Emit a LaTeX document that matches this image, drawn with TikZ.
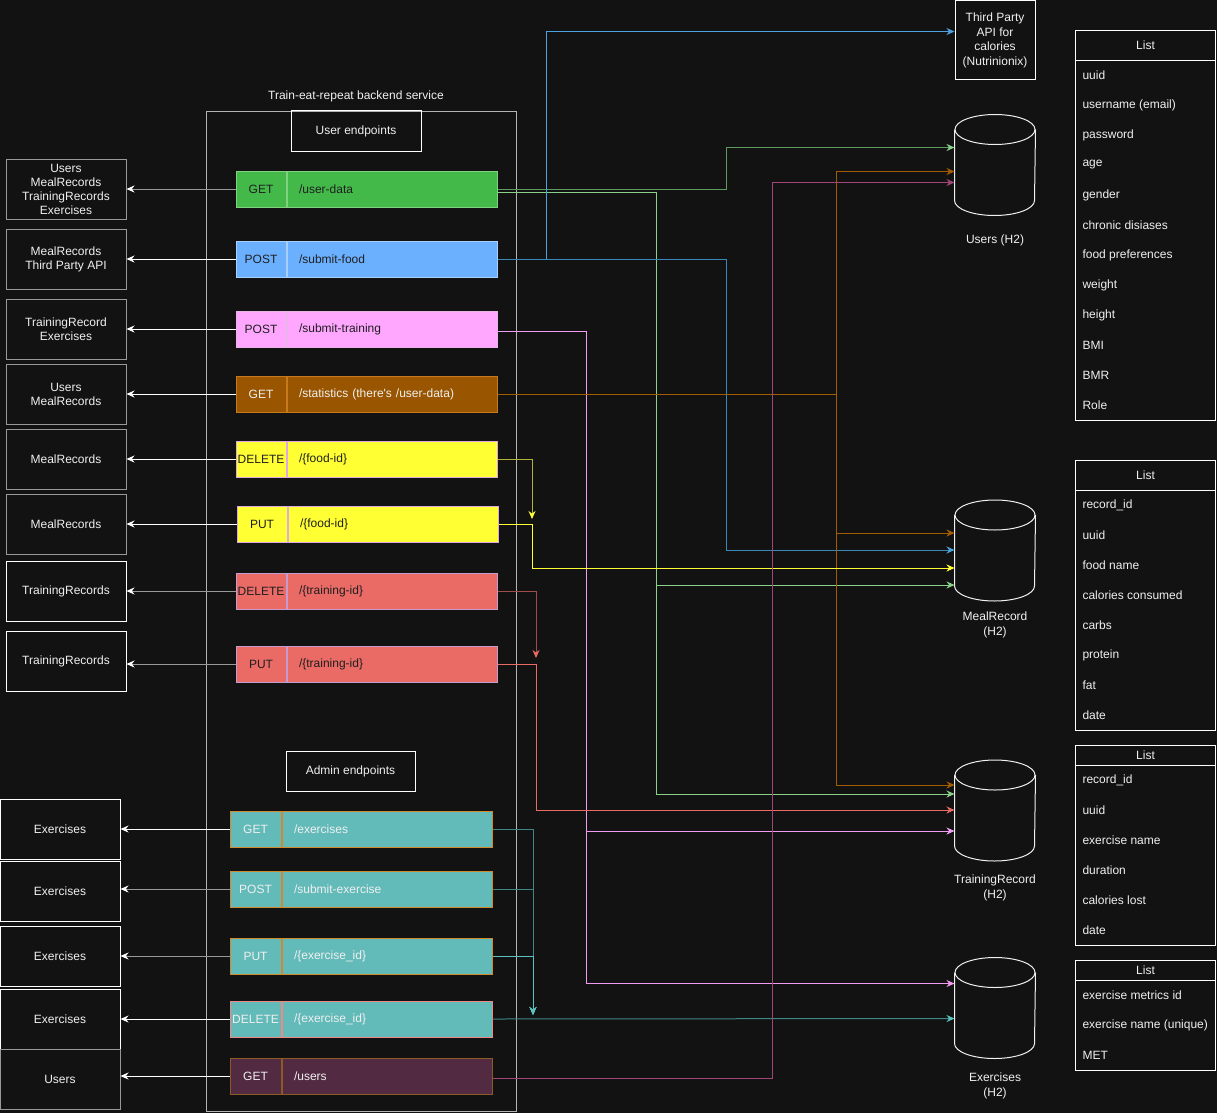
\documentclass[tikz,border=0pt]{standalone}
\usepackage{fontspec}
\setmainfont{Liberation Sans}
\usetikzlibrary{arrows.meta,calc}

\definecolor{bgDark}{HTML}{121212}
\definecolor{txtLight}{HTML}{F0F0F0}
\definecolor{epDark}{HTML}{1F1F1F}
\definecolor{boxGray}{HTML}{999999}
\definecolor{svcGray}{HTML}{B3B3B3}
% endpoint fills and borders
\definecolor{epGreen}{HTML}{43B94A}
\definecolor{epGreenLine}{HTML}{82D17F}
\definecolor{epBlue}{HTML}{6BB0FF}
\definecolor{epBlueLine}{HTML}{A9CFFF}
\definecolor{epPink}{HTML}{FFA6FF}
\definecolor{epPinkLine}{HTML}{E8B5E8}
\definecolor{epBrown}{HTML}{995500}
\definecolor{epBrownLine}{HTML}{C77A1A}
\definecolor{epYellow}{HTML}{FFFF33}
\definecolor{epYellowLine}{HTML}{E0A8E0}
\definecolor{epRed}{HTML}{EA6B66}
\definecolor{epRedLine}{HTML}{C79AD0}
\definecolor{epTeal}{HTML}{62BAB9}
\definecolor{epTealLine}{HTML}{D08A2E}
\definecolor{epPlum}{HTML}{522A42}
\definecolor{epPlumLine}{HTML}{8C5A24}
% connector colours
\definecolor{lnGreenDark}{HTML}{5E9A5E}
\definecolor{lnGreen}{HTML}{8AD18A}
\definecolor{lnBlue}{HTML}{4AA3DF}
\definecolor{lnBlueDark}{HTML}{3A88BA}
\definecolor{lnPink}{HTML}{F09CF0}
\definecolor{lnBrown}{HTML}{A35C00}
\definecolor{lnPlum}{HTML}{A3457A}
\definecolor{lnOlive}{HTML}{B3B33A}
\definecolor{lnYellow}{HTML}{FFFF33}
\definecolor{lnRedDark}{HTML}{A04C4A}
\definecolor{lnRed}{HTML}{EA6B66}
\definecolor{lnTealDark}{HTML}{3F8786}
\definecolor{lnTeal}{HTML}{5CC2C0}

\newcommand{\diagfont}{\fontsize{12}{14}\selectfont}
\newcommand{\dbcylinder}[1]{%
  \draw[txtLight] ($(#1.north west)+(0,15)$) -- ($(#1.south west)+(0,-15)$)
    arc[start angle=180, end angle=0, x radius=40, y radius=15]
    -- ($(#1.north east)+(0,15)$);
  \draw[txtLight] ($(#1.north)+(0,15)$) ellipse[x radius=40, y radius=15];}

\begin{document}
\begin{tikzpicture}[x=1pt, y=-1pt, >={Stealth[length=8pt, width=7pt]},
    line width=1pt, font=\diagfont, text=txtLight,
    box/.style={draw=boxGray, minimum width=120pt, minimum height=60pt, inner sep=0pt, align=center},
    hdrbox/.style={draw=white, minimum width=130pt, minimum height=40pt, inner sep=0pt},
    cellm/.style={draw, minimum width=50pt, minimum height=36pt, inner sep=0pt},
    cellp/.style={draw, anchor=west, minimum height=36pt, inner sep=0pt, inner xsep=12pt, text width=186pt, align=left},
    epgreen/.style={fill=epGreen, draw=epGreenLine, text=epDark},
    epblue/.style={fill=epBlue, draw=epBlueLine, text=epDark},
    eppink/.style={fill=epPink, draw=epPinkLine, text=epDark},
    epbrown/.style={fill=epBrown, draw=epBrownLine, text=txtLight},
    epyellow/.style={fill=epYellow, draw=epYellowLine, text=epDark},
    epred/.style={fill=epRed, draw=epRedLine, text=epDark},
    epteal/.style={fill=epTeal, draw=epTealLine, text=txtLight},
    epplum/.style={fill=epPlum, draw=epPlumLine, text=txtLight},
    retw/.style={white, ->},
    retg/.style={boxGray, -{Stealth[length=8pt, width=7pt, color=white]}},
    tipc/.style={-{Stealth[length=8pt, width=7pt, color=#1]}},
    dbbox/.style={minimum width=80pt, minimum height=100pt, inner sep=0pt},
    lsthead/.style={draw=white, anchor=north west, minimum width=140pt, inner sep=0pt},
    lstbody/.style={draw=white, anchor=north west, minimum width=140pt, inner sep=0pt},
    item/.style={anchor=west, inner sep=0pt}]

    \useasboundingbox (0,0) rectangle (1217,1113);
    \fill[bgDark] (0,0) rectangle (1217,1113);

    % backend service
    \node (svcTitle) at (356,96) {Train-eat-repeat backend service};
    \node[draw=svcGray, anchor=north west, minimum width=310pt, minimum height=1000pt, inner sep=0pt] (svc) at (206,111) {};
    \node[hdrbox] (userHdr) at (356,131) {User endpoints};
    \node[hdrbox, minimum width=129pt] (adminHdr) at (350.5,771) {Admin endpoints};

    % user endpoints
    \node[cellm, epgreen] (mUserData) at (261,189) {GET};
    \node[cellp, epgreen] (pUserData) at (mUserData.east) {/user-data};
    \node[cellm, epblue] (mSubmitFood) at (261,259) {POST};
    \node[cellp, epblue] (pSubmitFood) at (mSubmitFood.east) {/submit-food};
    \node[cellm, eppink] (mSubmitTraining) at (261,329) {POST};
    \node[cellp, eppink] (pSubmitTraining) at (mSubmitTraining.east) {/submit-training};
    \node[cellm, epbrown] (mStatistics) at (261,394) {GET};
    \node[cellp, epbrown] (pStatistics) at (mStatistics.east) {/statistics (there\textquotesingle s /user-data)};
    \node[cellm, epyellow] (mDelFood) at (261,459) {DELETE};
    \node[cellp, epyellow] (pDelFood) at (mDelFood.east) {/\{food-id\}};
    \node[cellm, epyellow] (mPutFood) at (262,524) {PUT};
    \node[cellp, epyellow] (pPutFood) at (mPutFood.east) {/\{food-id\}};
    \node[cellm, epred] (mDelTraining) at (261,591) {DELETE};
    \node[cellp, epred] (pDelTraining) at (mDelTraining.east) {/\{training-id\}};
    \node[cellm, epred] (mPutTraining) at (261,664) {PUT};
    \node[cellp, epred] (pPutTraining) at (mPutTraining.east) {/\{training-id\}};

    % admin endpoints
    \node[cellm, epteal, minimum width=51pt] (mGetEx) at (255.5,829) {GET};
    \node[cellp, epteal] (pGetEx) at (mGetEx.east) {/exercises};
    \node[cellm, epteal, minimum width=51pt] (mPostEx) at (255.5,889) {POST};
    \node[cellp, epteal] (pPostEx) at (mPostEx.east) {/submit-exercise};
    \node[cellm, epteal, minimum width=51pt] (mPutEx) at (255.5,956) {PUT};
    \node[cellp, epteal] (pPutEx) at (mPutEx.east) {/\{exercise\_id\}};
    \node[cellm, epteal, draw=lnRed!80, minimum width=51pt] (mDelEx) at (255.5,1019) {DELETE};
    \node[cellp, epteal, draw=lnRed!80] (pDelEx) at (mDelEx.east) {/\{exercise\_id\}};
    \node[cellm, epplum, minimum width=51pt] (mUsers) at (255.5,1076) {GET};
    \node[cellp, epplum] (pUsers) at (mUsers.east) {/users};

    % returned data
    \node[box] (bUserData) at (66,189) {Users\\MealRecords\\TrainingRecords\\Exercises};
    \node[box] (bSubmitFood) at (66,259) {MealRecords\\Third Party API};
    \node[box] (bSubmitTraining) at (66,329) {TrainingRecord\\Exercises};
    \node[box] (bStatistics) at (66,394) {Users\\MealRecords};
    \node[box] (bDelFood) at (66,459) {MealRecords};
    \node[box] (bPutFood) at (66,524) {MealRecords};
    \node[box, draw=white] (bDelTraining) at (66,591) {TrainingRecords};
    \node[box, draw=white] (bPutTraining) at (66,661) {TrainingRecords};
    \node[box, draw=white] (bGetEx) at (60,829) {Exercises};
    \node[box, draw=white] (bPostEx) at (60,891) {Exercises};
    \node[box, draw=white] (bPutEx) at (60,956) {Exercises};
    \node[box, draw=white] (bDelEx) at (60,1019) {Exercises};
    \node[box, draw=boxGray] (bUsers) at (60,1079) {Users};

    \draw[retg] (mUserData.west) -- (mUserData.west -| bUserData.east);
    \draw[retw] (mSubmitFood.west) -- (mSubmitFood.west -| bSubmitFood.east);
    \draw[retw] (mSubmitTraining.west) -- (mSubmitTraining.west -| bSubmitTraining.east);
    \draw[retw] (mStatistics.west) -- (mStatistics.west -| bStatistics.east);
    \draw[retw] (mDelFood.west) -- (mDelFood.west -| bDelFood.east);
    \draw[retw] (mPutFood.west) -- (mPutFood.west -| bPutFood.east);
    \draw[retg] (mDelTraining.west) -- (mDelTraining.west -| bDelTraining.east);
    \draw[retg] (mPutTraining.west) -- (mPutTraining.west -| bPutTraining.east);
    \draw[retw] (mGetEx.west) -- (mGetEx.west -| bGetEx.east);
    \draw[retg] (mPostEx.west) -- (mPostEx.west -| bPostEx.east);
    \draw[retg] (mPutEx.west) -- (mPutEx.west -| bPutEx.east);
    \draw[retw] (mDelEx.west) -- (mDelEx.west -| bDelEx.east);
    \draw[retw] (mUsers.west) -- (mUsers.west -| bUsers.east);

    % storage
    \node[draw=white, minimum width=80pt, minimum height=79pt, inner sep=0pt, align=center,
          font=\fontsize{12}{14.5}\selectfont] (api) at (995,40.5) {Third Party\\API for\\calories\\(Nutrinionix)};
    \node[dbbox] (cUsers) at (995,165) {};
    \node[dbbox] (cMeal) at (995,550.5) {};
    \node[dbbox] (cTrain) at (995,810.5) {};
    \node[dbbox] (cEx) at (995,1008) {};
    \dbcylinder{cUsers}
    \dbcylinder{cMeal}
    \dbcylinder{cTrain}
    \dbcylinder{cEx}
    \node (cUsersLbl) at (995,240) {Users (H2)};
    \node[align=center, font=\fontsize{12}{15}\selectfont] (cMealLbl) at (995,624.5) {MealRecord\\(H2)};
    \node[align=center, font=\fontsize{12}{15}\selectfont] (cTrainLbl) at (995,887.5) {TrainingRecord\\(H2)};
    \node[align=center, font=\fontsize{12}{15}\selectfont] (cExLbl) at (995,1085.5) {Exercises\\(H2)};

    % lanes of the connectors
    \coordinate (laneApi) at (546,0);
    \coordinate (laneMid) at (726,0);
    \coordinate (laneGreen) at (656,0);
    \coordinate (lanePink) at (586,0);
    \coordinate (laneStats) at (836,0);
    \coordinate (lanePlum) at (772,0);
    \coordinate (laneFood) at (532,0);
    \coordinate (laneTrId) at (536,0);
    \coordinate (laneEx) at (533,0);
    \coordinate (foodJoin) at ($(pPutFood.east -| laneFood)+(0,-5)$);
    \coordinate (trainJoin) at ($(pPutTraining.east -| laneTrId)+(0,-6)$);
    \coordinate (exJoin) at ($(pDelEx.east -| laneEx)+(0,-4)$);

    \draw[lnGreenDark, tipc=lnGreen] (pUserData.east) -- (pUserData.east -| laneMid) |- ($(cUsers.north west)+(0,33)$);
    \draw[lnGreen, ->] ($(pUserData.east)+(0,3)$) -| ($(laneGreen |- cMeal.north west)+(0,85)$) -- ($(cMeal.north west)+(0,85)$);
    \draw[lnGreen, ->] ($(pUserData.east)+(0,3)$) -| ($(laneGreen |- cTrain.north west)+(0,34)$) -- ($(cTrain.north west)+(0,34)$);

    \draw[lnBlue, ->] (pSubmitFood.east) -- (pSubmitFood.east -| laneApi) |- ($(api.north west)+(0,31)$);
    \draw[lnBlueDark, tipc=lnBlue] (pSubmitFood.east) -- (pSubmitFood.east -| laneMid) |- ($(cMeal.north west)+(0,50)$);

    \draw[lnPink, ->] ($(pSubmitTraining.east)+(0,2)$) -| ($(lanePink |- cTrain.north west)+(0,71)$) -- ($(cTrain.north west)+(0,71)$);
    \draw[lnPink, ->] ($(pSubmitTraining.east)+(0,2)$) -| ($(lanePink |- cEx.north west)+(0,26)$) -- ($(cEx.north west)+(0,26)$);

    \draw[lnBrown, ->] (pStatistics.east) -- (pStatistics.east -| laneStats) |- ($(cUsers.north west)+(0,57)$);
    \draw[lnBrown, ->] (pStatistics.east) -- (pStatistics.east -| laneStats) |- ($(cMeal.north west)+(0,33)$);
    \draw[lnBrown, ->] (pStatistics.east) -- (pStatistics.east -| laneStats) |- ($(cTrain.north west)+(0,25)$);

    \draw[lnOlive, tipc=lnYellow] (pDelFood.east) -- (pDelFood.east -| laneFood) -- (foodJoin);
    \draw[lnYellow, ->] (pPutFood.east) -- (pPutFood.east -| laneFood) |- ($(cMeal.north west)+(0,68)$);

    \draw[lnRedDark, tipc=lnRed] (pDelTraining.east) -- (pDelTraining.east -| laneTrId) -- (trainJoin);
    \draw[lnRed, ->] (pPutTraining.east) -- (pPutTraining.east -| laneTrId) |- ($(cTrain.north west)+(0,50)$);

    \draw[lnTealDark, tipc=lnTeal] (pGetEx.east) -- (pGetEx.east -| laneEx) -- (exJoin);
    \draw[lnTealDark, tipc=lnTeal] (pPostEx.east) -- (pPostEx.east -| laneEx) -- (exJoin);
    \draw[lnTeal, ->] (pPutEx.east) -- (pPutEx.east -| laneEx) -- (exJoin);
    \draw[lnTealDark, tipc=lnTeal] (pDelEx.east) -- ($(cEx.north west)+(0,61)$);

    \draw[lnPlum, ->] ($(pUsers.east)+(0,2)$) -| ($(lanePlum |- cUsers.north west)+(0,68)$) -- ($(cUsers.north west)+(0,68)$);

    % tables
    \node[lstbody, minimum height=390pt] (tblUsers) at (1075,30) {};
    \node[lsthead, minimum height=30pt] (tblUsersHead) at (1075,30) {List};
    \node[item] (tu1) at (1082,75) {uuid};
    \node[item] (tu2) at (1082,105) {username (email)};
    \node[item] (tu3) at (1082,135) {password};
    \node[item] (tu4) at (1082,165) {age};
    \node[item] (tu5) at (1082,195) {gender};
    \node[item] (tu6) at (1082,225) {chronic disiases};
    \node[item] (tu7) at (1082,255) {food preferences};
    \node[item] (tu8) at (1082,285) {weight};
    \node[item] (tu9) at (1082,315) {height};
    \node[item] (tu10) at (1082,345) {BMI};
    \node[item] (tu11) at (1082,375) {BMR};
    \node[item] (tu12) at (1082,405) {Role};

    \node[lstbody, minimum height=270pt] (tblMeal) at (1075,460) {};
    \node[lsthead, minimum height=30pt] (tblMealHead) at (1075,460) {List};
    \node[item] (tm1) at (1082,505) {record\_id};
    \node[item] (tm2) at (1082,535) {uuid};
    \node[item] (tm3) at (1082,565) {food name};
    \node[item] (tm4) at (1082,595) {calories consumed};
    \node[item] (tm5) at (1082,625) {carbs};
    \node[item] (tm6) at (1082,655) {protein};
    \node[item] (tm7) at (1082,685) {fat};
    \node[item] (tm8) at (1082,715) {date};

    \node[lstbody, minimum height=200pt] (tblTrain) at (1075,745) {};
    \node[lsthead, minimum height=20pt] (tblTrainHead) at (1075,745) {List};
    \node[item] (tt1) at (1082,780) {record\_id};
    \node[item] (tt2) at (1082,810) {uuid};
    \node[item] (tt3) at (1082,840) {exercise name};
    \node[item] (tt4) at (1082,870) {duration};
    \node[item] (tt5) at (1082,900) {calories lost};
    \node[item] (tt6) at (1082,930) {date};

    \node[lstbody, minimum height=110pt] (tblEx) at (1075,960) {};
    \node[lsthead, minimum height=20pt] (tblExHead) at (1075,960) {List};
    \node[item] (te1) at (1082,995) {exercise metrics id};
    \node[item] (te2) at (1082,1025) {exercise name (unique)};
    \node[item] (te3) at (1082,1055) {MET};
\end{tikzpicture}
\end{document}
